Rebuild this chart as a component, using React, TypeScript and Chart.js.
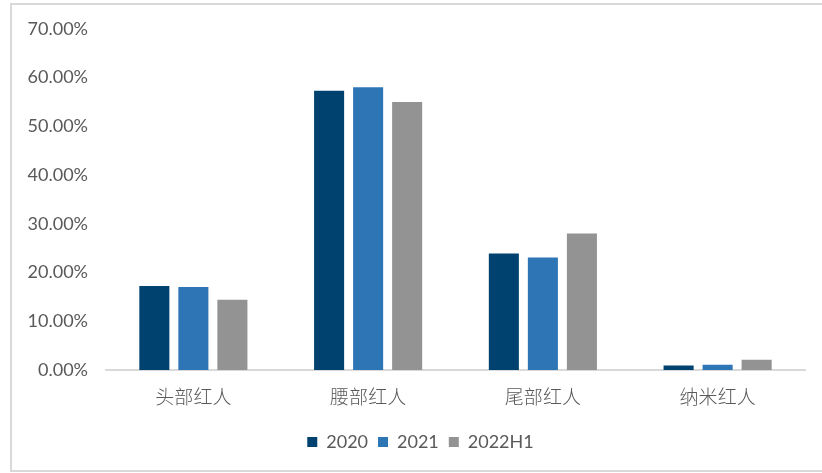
import React, { useEffect, useRef } from "react";
import { Chart, registerables } from "chart.js";

Chart.register(...registerables);

const categories = ["头部红人", "腰部红人", "尾部红人", "纳米红人"];
const seriesNames = ["2020", "2021", "2022H1"];
const values2020 = [0.1725, 0.573, 0.239, 0.009];
const values2021 = [0.1705, 0.580, 0.231, 0.011];
const values2022H1 = [0.144, 0.550, 0.280, 0.021];
const colors = ["#00426f", "#2e75b6", "#939393"];

const shiftLegend = {
  id: "shiftLegend",
  afterLayout(chart: any) {
    const lg = chart.legend;
    if (lg) {
      lg.left += 18;
      lg.right += 18;
    }
  },
};

export default function App() {
  const ref = useRef<HTMLCanvasElement | null>(null);
  useEffect(() => {
    if (!ref.current) return;
    const chart = new Chart(ref.current, {
      type: "bar",
      data: {
        labels: categories,
        datasets: [values2020, values2021, values2022H1].map((d, i) => ({
          label: seriesNames[i],
          data: d,
          backgroundColor: colors[i],
          borderWidth: 0,
          categoryPercentage: 0.67,
          barPercentage: 0.77,
        })),
      },
      plugins: [shiftLegend],
      options: {
        animation: false,
        responsive: false,
        layout: { padding: { top: 27, right: 17, bottom: 12, left: 0 } },
        plugins: {
          tooltip: { enabled: false },
          legend: {
            position: "bottom",
            labels: {
              boxWidth: 10,
              boxHeight: 10,
              padding: 10,
              color: "#595959",
              font: { family: "Lato", size: 18 },
            },
          },
        },
        scales: {
          x: {
            grid: { display: false, drawTicks: false },
            border: { display: true, color: "#d9d9d9", width: 2 },
            ticks: {
              color: "#595959",
              padding: 15,
              font: { family: "Noto Sans CJK SC", size: 19, weight: 300 },
            },
            afterFit: (s: any) => {
              s.height = 53;
            },
          },
          y: {
            min: 0,
            max: 0.7,
            grid: { display: false, drawTicks: false },
            border: { display: false },
            ticks: {
              stepSize: 0.1,
              padding: 18,
              color: "#595959",
              font: { family: "Lato", size: 18 },
              callback: (v: any) => (Number(v) * 100).toFixed(2) + "%",
            },
            afterFit: (s: any) => {
              s.width = 106;
            },
          },
        },
      },
    });
    return () => chart.destroy();
  }, []);
  return (
    <div style={{ position: "absolute", left: 0, top: 0, width: 822, height: 473, background: "#fff", overflow: "hidden" }}>
      <div
        style={{
          position: "absolute",
          left: 10,
          top: 3,
          width: 812,
          height: 465,
          borderTop: "2px solid #d9d9d9",
          borderLeft: "2px solid #d9d9d9",
          borderBottom: "2px solid #d9d9d9",
        }}
      />
      <canvas ref={ref} width={822} height={473} style={{ position: "absolute", left: 0, top: 0 }} />
    </div>
  );
}
